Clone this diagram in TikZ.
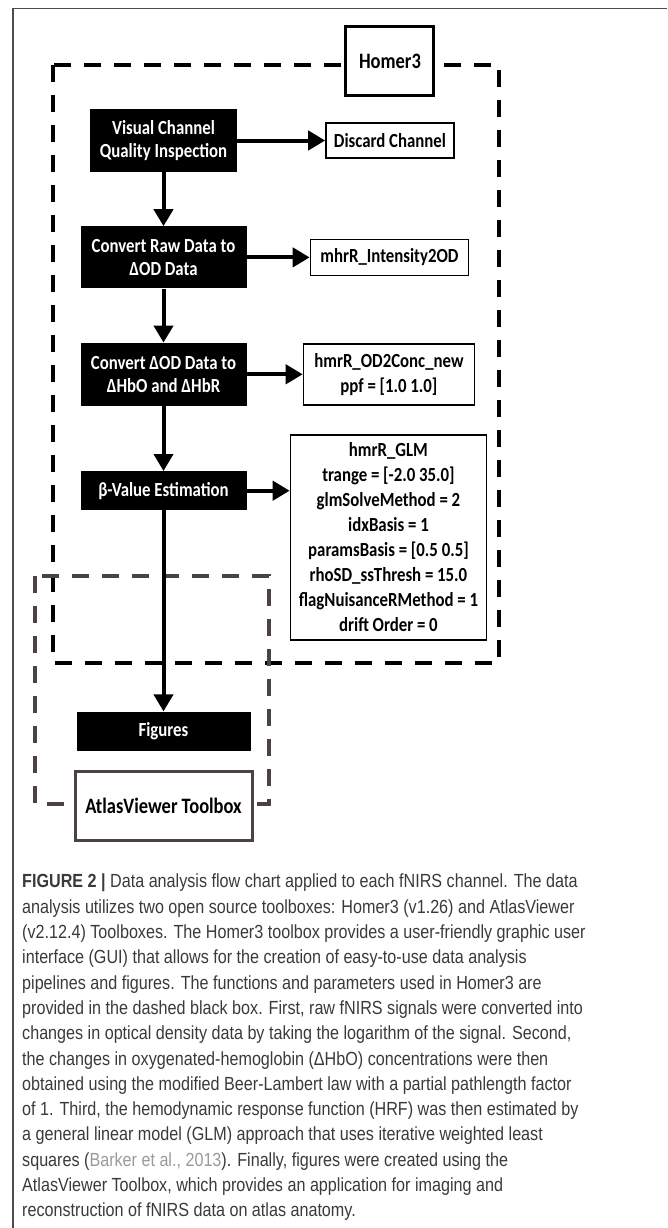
\documentclass[tikz,border=0pt]{standalone}
\usepackage{fontspec}
\setmainfont{Liberation Sans}
\newfontfamily\boxfont[FakeStretch=0.84]{Carlito}
\newfontfamily\capfont[FakeStretch=0.85]{Liberation Sans}
\usetikzlibrary{arrows.meta, positioning}
\definecolor{atlasgray}{HTML}{4A4244}
\definecolor{captext}{HTML}{3A3A3A}
\definecolor{citegray}{HTML}{9A9A9A}

\begin{document}
\begin{tikzpicture}[
    x=1pt, y=1pt,
    stage/.style={fill=black, text=white, inner sep=0pt, minimum width=166pt, align=center, font=\boxfont\bfseries\fontsize{20}{23}\selectfont},
    func/.style={draw, line width=1.5pt, fill=white, inner sep=0pt, align=center, font=\boxfont\bfseries\fontsize{20}{25}\selectfont},
    tag/.style={draw, line width=3pt, fill=white, inner sep=0pt, align=center, font=\boxfont\bfseries\fontsize{22}{24}\selectfont},
    frame/.style={line width=4pt, dash pattern=on 17pt off 13pt},
    arr/.style={-{Triangle[length=17pt, width=19pt]}, line width=4pt}
]
\useasboundingbox (0,0) rectangle (667,-1228);
% page frame
\draw[line width=1.3pt, black!70] (13,-1228) -- (13,-8.5) -- (667,-8.5);
% toolbox frames
\draw[frame] (53,-65) rectangle (499,-663);
\draw[frame, atlasgray] (35,-576) rectangle (269,-804);

\node[stage, minimum width=147pt, minimum height=63pt] (vis) at (163.5,-140.5) {Visual Channel\\Quality Inspection};
\node[stage, minimum height=62pt, below=54pt of vis] (raw) {Convert Raw Data to\\ΔOD Data};
\node[stage, minimum height=63pt, below=54pt of raw] (od) {Convert ΔOD Data to\\ΔHbO and ΔHbR};
\node[stage, minimum height=39pt, below=65pt of od] (beta) {β-Value Estimation};
\node[stage, minimum width=174pt, minimum height=39pt, below=201pt of beta] (fig) {Figures};

\node[func, minimum width=128pt, minimum height=35pt, right=88pt of vis] (discard) {Discard Channel};
\node[func, minimum width=158pt, minimum height=36pt, right=63pt of raw] (intens) {mhrR\_Intensity2OD};
\node[func, minimum width=171pt, minimum height=61pt, right=56pt of od] (conc) {hmrR\_OD2Conc\_new\\ppf = [1.0 1.0]};
\node[func, minimum width=196pt, minimum height=205pt, anchor=north west] (glm) at ([shift={(43pt,56.5pt)}]beta.east)
    {hmrR\_GLM\\trange = [-2.0 35.0]\\glmSolveMethod = 2\\idxBasis = 1\\paramsBasis = [0.5 0.5]\\rhoSD\_ssThresh = 15.0\\flagNuisanceRMethod = 1\\drift Order = 0};

\node[tag, minimum width=88pt, minimum height=69pt, above=25pt of discard] (homer) {Homer3};
\node[tag, draw=atlasgray, minimum width=177pt, minimum height=69pt, below=19pt of fig] (atlas) {AtlasViewer Toolbox};

\draw[arr] (vis) -- (raw);
\draw[arr] (raw) -- (od);
\draw[arr] (od) -- (beta);
\draw[arr] (beta) -- (fig);
\draw[arr] (vis) -- (discard);
\draw[arr] (raw) -- (intens);
\draw[arr] (od) -- (conc);
\draw[arr] (beta.east) -- (beta.east -| glm.west);

% caption
\node[anchor=north west, inner sep=0pt, align=left, text=captext, font=\capfont\fontsize{19}{25.3}\selectfont] (cap) at (22,-874)
    {\textbf{FIGURE 2 |} Data analysis flow chart applied to each fNIRS channel. The data\\
     analysis utilizes two open source toolboxes: Homer3 (v1.26) and AtlasViewer\\
     (v2.12.4) Toolboxes. The Homer3 toolbox provides a user-friendly graphic user\\
     interface (GUI) that allows for the creation of easy-to-use data analysis\\
     pipelines and figures. The functions and parameters used in Homer3 are\\
     provided in the dashed black box. First, raw fNIRS signals were converted into\\
     changes in optical density data by taking the logarithm of the signal. Second,\\
     the changes in oxygenated-hemoglobin (ΔHbO) concentrations were then\\
     obtained using the modified Beer-Lambert law with a partial pathlength factor\\
     of 1. Third, the hemodynamic response function (HRF) was then estimated by\\
     a general linear model (GLM) approach that uses iterative weighted least\\
     squares ({\color{citegray}Barker et al., 2013}). Finally, figures were created using the\\
     AtlasViewer Toolbox, which provides an application for imaging and\\
     reconstruction of fNIRS data on atlas anatomy.};
\end{tikzpicture}
\end{document}
